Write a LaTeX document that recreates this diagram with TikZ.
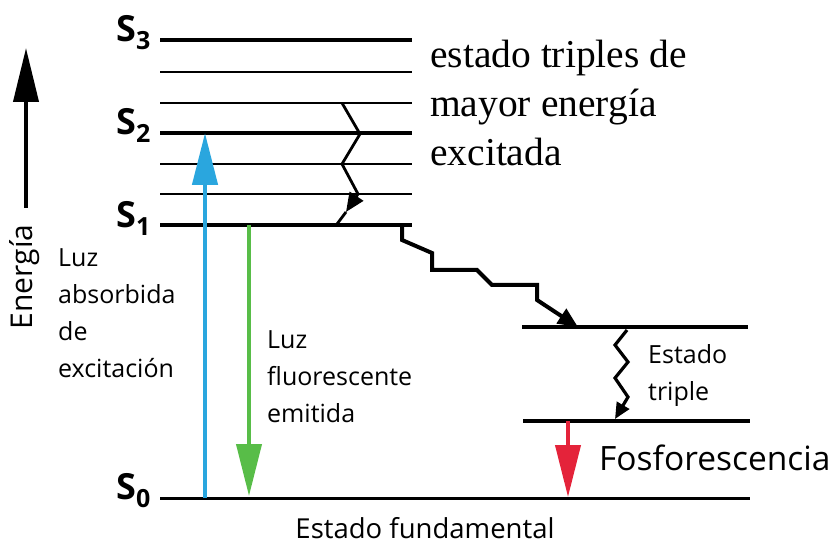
\documentclass[tikz,border=0pt]{standalone}
\usepackage{fontspec}
\setmainfont{Liberation Serif}
\newfontfamily\osans{Open Sans}
\usetikzlibrary{arrows.meta}
\definecolor{absblue}{HTML}{2AA6DE}
\definecolor{flgreen}{HTML}{58BD48}
\definecolor{phred}{HTML}{E4233A}
\tikzset{
  thicklevel/.style={line width=3.2pt, black},
  thinlevel/.style={line width=2pt, black},
  triplevel/.style={line width=4.5pt, black},
  slabel/.style={anchor=base west, inner sep=0pt, font=\osans\bfseries\fontsize{36}{36}\selectfont},
  sanslabel/.style={anchor=base west, inner sep=0pt, align=left, font=\osans\fontsize{25}{37}\selectfont},
  biglead/.style={line width=4.5pt, -{Triangle[width=25pt,length=52pt]}},
  zig/.style={line width=2.8pt, line join=miter},
}
\newcommand{\subd}[1]{\raisebox{-8pt}{\fontsize{25}{25}\selectfont #1}}
\begin{document}
\begin{tikzpicture}[x=1pt,y=-1pt]
\useasboundingbox[fill=white] (0,0) rectangle (835,545);
% levels
\coordinate (s3a) at (160,40);  \coordinate (s3b) at (412,40);
\coordinate (t1a) at (160,72);  \coordinate (t1b) at (412,72);
\coordinate (t2a) at (160,103); \coordinate (t2b) at (412,103);
\coordinate (s2a) at (160,133); \coordinate (s2b) at (412,133);
\coordinate (t3a) at (160,164); \coordinate (t3b) at (412,164);
\coordinate (t4a) at (160,194); \coordinate (t4b) at (412,194);
\coordinate (s1a) at (160,225); \coordinate (s1b) at (412,225);
\coordinate (s0a) at (160,498); \coordinate (s0b) at (750,498);
\coordinate (tua) at (522,327); \coordinate (tub) at (748,327);
\coordinate (tla) at (523,421); \coordinate (tlb) at (750,421);
\draw[thicklevel] (s3a) -- (s3b);
\draw[thinlevel] (t1a) -- (t1b);
\draw[thinlevel] (t2a) -- (t2b);
\draw[thicklevel] (s2a) -- (s2b);
\draw[thinlevel] (t3a) -- (t3b);
\draw[thinlevel] (t4a) -- (t4b);
\draw[thicklevel] (s1a) -- (s1b);
\draw[line width=3pt] (s0a) -- (s0b);
\draw[triplevel] (tua) -- (tub);
\draw[triplevel] (tla) -- (tlb);
% state labels
\node[slabel] (S3) at (116,42) {S\subd{3}};
\node[slabel] (S2) at (116,135) {S\subd{2}};
\node[slabel] (S1) at (116,228) {S\subd{1}};
\node[slabel] (S0) at (116,499) {S\subd{0}};
% energy axis
\coordinate (ea) at (26,208); \coordinate (eb) at (26,48);
\draw[line width=4pt, -{Triangle[width=25pt,length=54pt]}] (ea) -- (eb);
\node[rotate=90, inner sep=0pt, font=\osans\fontsize{30}{30}\selectfont] (energia) at (25,277) {Energía};
% absorption / fluorescence / phosphorescence
\coordinate (ba) at (205,498); \coordinate (bb) at (205,133);
\draw[biglead, absblue] (ba) -- (bb);
\coordinate (ga) at (249,225); \coordinate (gb) at (249,496);
\draw[biglead, flgreen, line width=4pt] (ga) -- (gb);
\coordinate (ra) at (568,421); \coordinate (rb) at (568,497);
\draw[biglead, phred, line width=4pt] (ra) -- (rb);
% internal conversion zigzag
\coordinate (z1) at (342,103); \coordinate (z2) at (360,134);
\coordinate (z3) at (342,164); \coordinate (z4) at (358,194);
\coordinate (z5) at (346,212); \coordinate (z6) at (337,224);
\draw[zig, -{Triangle[width=16pt,length=19pt]}] (z1) -- (z2) -- (z3) -- (z4) -- (z5);
\draw[zig] (z5) -- (z6);
% intersystem crossing staircase
\coordinate (c0) at (402,225); \coordinate (c1) at (402,240);
\coordinate (c2) at (432,253); \coordinate (c3) at (432,270);
\coordinate (c4) at (477,270); \coordinate (c5) at (492,285);
\coordinate (c6) at (537,285); \coordinate (c7) at (537,300);
\coordinate (c8) at (578,327);
\draw[line width=4pt, line join=miter, -{Triangle[width=17pt,length=20pt]}]
  (c0) -- (c1) -- (c2) -- (c3) -- (c4) -- (c5) -- (c6) -- (c7) -- (c8);
% triplet relaxation zigzag
\coordinate (w0) at (627,330); \coordinate (w1) at (615,345);
\coordinate (w2) at (628,362); \coordinate (w3) at (615,378);
\coordinate (w4) at (628,397); \coordinate (w5) at (615,419);
\draw[zig, line width=3.2pt, -{Triangle[width=14pt,length=16pt]}]
  (w0) -- (w1) -- (w2) -- (w3) -- (w4) -- (w5);
% texts
\node[anchor=base west, inner sep=0pt, align=left, font=\fontsize{39.5}{49}\selectfont] (upper) at (430,166)
  {estado triples de\\mayor energía\\excitada};
\node[sanslabel] (abs) at (58,377) {Luz\\absorbida\\de\\excitación};
\node[sanslabel] (flu) at (267,422) {Luz\\fluorescente\\emitida};
\node[sanslabel] (trip) at (648,400) {Estado\\triple};
\node[anchor=base west, inner sep=0pt, font=\osans\fontsize{33.5}{33.5}\selectfont] (fos) at (599,470) {Fosforescencia};
\node[anchor=base, inner sep=0pt, font=\osans\fontsize{27.5}{27.5}\selectfont] (fund) at (425,538) {Estado fundamental};
\end{tikzpicture}
\end{document}
